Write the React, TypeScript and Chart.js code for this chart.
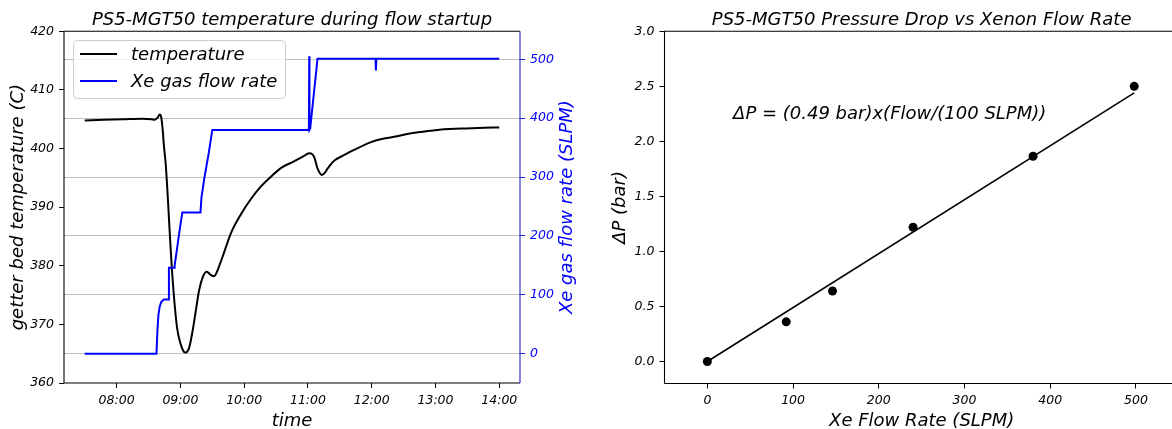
import React, { useEffect, useRef } from "react";
import { Chart, registerables } from "chart.js";

Chart.register(...registerables);

// ---------- Left panel data ----------
const timeTicks = [8, 9, 10, 11, 12, 13, 14];
const tempTicks = [360, 370, 380, 390, 400, 410, 420];
const flowTicks = [0, 100, 200, 300, 400, 500];

const tempTime = [
  7.5, 7.8, 8.1, 8.4, 8.55, 8.6, 8.645, 8.675, 8.7, 8.72, 8.743, 8.769, 8.805, 8.821,
  8.852, 8.89, 8.947, 9.005, 9.04, 9.072, 9.1, 9.135, 9.19, 9.24, 9.29, 9.345, 9.41,
  9.45, 9.48, 9.53, 9.57, 9.61, 9.68, 9.79, 9.95, 10.1, 10.26, 10.42, 10.58, 10.78,
  10.92, 11.02, 11.07, 11.1, 11.15, 11.22, 11.26, 11.31, 11.41, 11.57, 11.73, 11.99,
  12.14, 12.35, 12.62, 12.88, 13.14, 13.4, 13.66, 14.0,
];
const tempValue = [
  404.8, 404.9, 405.0, 405.1, 405.0, 404.9, 405.3, 405.8, 405.3, 403.5, 400.3, 397.5,
  391.2, 388.0, 382.0, 376.0, 369.5, 366.6, 365.6, 365.2, 365.3, 365.9, 368.8, 372.2,
  375.6, 377.9, 379.0, 378.7, 378.4, 378.2, 378.9, 380.0, 382.1, 385.5, 388.8, 391.3,
  393.5, 395.2, 396.7, 397.8, 398.6, 399.2, 399.0, 398.5, 396.6, 395.5, 395.8, 396.6,
  397.9, 398.9, 399.8, 401.1, 401.6, 402.0, 402.6, 403.0, 403.3, 403.4, 403.5, 403.6,
];

const flowTime = [
  7.5, 8.625, 8.64, 8.655, 8.675, 8.7, 8.74, 8.815, 8.82, 8.9, 8.91, 8.95, 8.99, 9.03,
  9.315, 9.33, 9.38, 9.445, 9.5, 11.015, 11.02, 11.024, 11.035, 11.15, 11.6, 12.06,
  12.066, 12.072, 12.6, 13.3, 14.0,
];
const flowValue = [
  0, 0, 40, 65, 80, 88, 92, 92, 146, 146, 150, 180, 211, 240, 240, 265, 301, 341, 380,
  380, 505, 380, 382, 501, 501, 501, 481, 501, 501, 501, 501,
];

// ---------- Right panel data ----------
const xeFlow = [0, 92, 146, 240, 380, 498];
const deltaP = [0, 0.36, 0.64, 1.22, 1.865, 2.5];
const fitFlow = [0, 498];
const fitDeltaP = [0, 2.44];
const rateTicks = [0, 100, 200, 300, 400, 500];
const dpTicks = [0, 0.5, 1.0, 1.5, 2.0, 2.5, 3.0];
const annotationFlow = 30;
const annotationDP = 2.2;

const FONT = "DejaVu Sans";
const tickFont = { family: FONT, size: 12.5, style: "italic" as const };
const SPINE_BLUE = "#2020c8";

const fixTicks = (values: number[]) => (scale: any) => {
  scale.ticks = values.map((v) => ({ value: v }));
};

const fmtTime = (v: number) => {
  const h = Math.floor(v + 1e-9);
  const m = Math.round((v - h) * 60);
  return `${String(h).padStart(2, "0")}:${String(m).padStart(2, "0")}`;
};

function drawText(
  ctx: CanvasRenderingContext2D,
  str: string,
  x: number,
  y: number,
  o: { size?: number; color?: string; align?: CanvasTextAlign; baseline?: CanvasTextBaseline; rotate?: number } = {}
) {
  ctx.save();
  ctx.font = `italic ${o.size ?? 18}px "${FONT}"`;
  ctx.fillStyle = o.color ?? "black";
  ctx.textAlign = o.align ?? "center";
  ctx.textBaseline = o.baseline ?? "alphabetic";
  ctx.translate(x, y);
  if (o.rotate) ctx.rotate(o.rotate);
  ctx.fillText(str, 0, 0);
  ctx.restore();
}

function drawSpines(chart: any, rightColor: string) {
  const { ctx, chartArea: a } = chart;
  ctx.save();
  ctx.lineWidth = 1.1;
  ctx.strokeStyle = "black";
  ctx.beginPath();
  ctx.moveTo(a.left, a.bottom);
  ctx.lineTo(a.left, a.top);
  ctx.lineTo(a.right, a.top);
  ctx.moveTo(a.left, a.bottom);
  ctx.lineTo(a.right, a.bottom);
  ctx.stroke();
  ctx.strokeStyle = rightColor;
  ctx.beginPath();
  ctx.moveTo(a.right, a.top);
  ctx.lineTo(a.right, a.bottom);
  ctx.stroke();
  ctx.restore();
}

const legendOrder = ["temperature", "Xe gas flow rate"];

function drawLegend(chart: any) {
  const ctx: CanvasRenderingContext2D = chart.ctx;
  const x = 73.5, y = 40.5, w = 212, h = 58, r = 4;
  ctx.save();
  ctx.beginPath();
  ctx.moveTo(x + r, y);
  ctx.lineTo(x + w - r, y);
  ctx.arcTo(x + w, y, x + w, y + r, r);
  ctx.lineTo(x + w, y + h - r);
  ctx.arcTo(x + w, y + h, x + w - r, y + h, r);
  ctx.lineTo(x + r, y + h);
  ctx.arcTo(x, y + h, x, y + h - r, r);
  ctx.lineTo(x, y + r);
  ctx.arcTo(x, y, x + r, y, r);
  ctx.closePath();
  ctx.fillStyle = "rgba(255,255,255,0.8)";
  ctx.fill();
  ctx.strokeStyle = "#cccccc";
  ctx.lineWidth = 1;
  ctx.stroke();
  legendOrder.forEach((label, i) => {
    const ds = chart.data.datasets.find((d: any) => d.label === label);
    if (!ds) return;
    const ly = 54 + i * 27;
    ctx.strokeStyle = ds.borderColor;
    ctx.lineWidth = 2;
    ctx.beginPath();
    ctx.moveTo(80, ly);
    ctx.lineTo(117, ly);
    ctx.stroke();
    drawText(ctx, label, 131, 60.3 + i * 27, { align: "left" });
  });
  ctx.restore();
}

function leftConfig(): any {
  const tempPts = tempTime.map((t, i) => ({ x: t, y: tempValue[i] }));
  const flowPts = flowTime.map((t, i) => ({ x: t, y: flowValue[i] }));
  return {
    type: "line",
    data: {
      datasets: [
        {
          label: "temperature",
          data: tempPts,
          yAxisID: "y",
          borderColor: "black",
          borderWidth: 2,
          pointRadius: 0,
          cubicInterpolationMode: "monotone",
          order: 1,
        },
        {
          label: "Xe gas flow rate",
          data: flowPts,
          yAxisID: "y2",
          borderColor: "blue",
          borderWidth: 2,
          pointRadius: 0,
          tension: 0,
          order: 0,
        },
      ],
    },
    options: {
      animation: false,
      responsive: false,
      events: [],
      layout: { padding: { top: 31.3, left: 0, right: 0, bottom: 0 } },
      plugins: { legend: { display: false }, tooltip: { enabled: false }, title: { display: false } },
      scales: {
        x: {
          type: "linear",
          min: 7.175,
          max: 14.325,
          afterBuildTicks: fixTicks(timeTicks),
          afterFit: (s: any) => {
            s.height = 46;
          },
          border: { display: false },
          grid: { drawOnChartArea: false, tickLength: 5, tickColor: "black", tickWidth: 1 },
          ticks: {
            font: tickFont,
            color: "black",
            padding: 5,
            maxRotation: 0,
            autoSkip: false,
            callback: (v: number) => fmtTime(v),
          },
        },
        y: {
          type: "linear",
          position: "left",
          min: 360,
          max: 420,
          afterBuildTicks: fixTicks(tempTicks),
          afterFit: (s: any) => {
            s.width = 64;
          },
          border: { display: false },
          grid: { drawOnChartArea: false, tickLength: 5, tickColor: "black", tickWidth: 1 },
          ticks: { font: tickFont, color: "black", padding: 5, callback: (v: number) => String(v) },
        },
        y2: {
          type: "linear",
          position: "right",
          min: -49.7,
          max: 547.5,
          afterBuildTicks: fixTicks(flowTicks),
          afterFit: (s: any) => {
            s.width = 80;
          },
          border: { display: false },
          grid: {
            drawOnChartArea: true,
            color: "#b0b0b0",
            lineWidth: 0.8,
            tickLength: 5,
            tickColor: SPINE_BLUE,
            tickWidth: 1,
          },
          ticks: { font: tickFont, color: "blue", padding: 5, callback: (v: number) => String(v) },
        },
      },
    },
    plugins: [
      {
        id: "leftDeco",
        afterDatasetsDraw: (chart: any) => drawSpines(chart, SPINE_BLUE),
        afterDraw: (chart: any) => {
          const ctx = chart.ctx;
          const a = chart.chartArea;
          const cx = (a.left + a.right) / 2;
          const cy = (a.top + a.bottom) / 2;
          drawText(ctx, "PS5-MGT50 temperature during flow startup", cx, 24.5);
          drawText(ctx, "time", cx, 425.5);
          drawText(ctx, "getter bed temperature (C)", 18.5, cy, { baseline: "middle", rotate: -Math.PI / 2 });
          drawText(ctx, "Xe gas flow rate (SLPM)", 567, cy, {
            baseline: "middle",
            rotate: -Math.PI / 2,
            color: "blue",
          });
          drawLegend(chart);
        },
      },
    ],
  };
}

function rightConfig(): any {
  const pts = xeFlow.map((f, i) => ({ x: f, y: deltaP[i] }));
  const fit = fitFlow.map((f, i) => ({ x: f, y: fitDeltaP[i] }));
  return {
    type: "line",
    data: {
      datasets: [
        {
          label: "measured",
          data: pts,
          showLine: false,
          pointRadius: 4.5,
          pointBackgroundColor: "black",
          pointBorderColor: "black",
          pointBorderWidth: 0,
          borderColor: "black",
          order: 0,
        },
        {
          label: "fit",
          data: fit,
          borderColor: "black",
          borderWidth: 1.6,
          pointRadius: 0,
          tension: 0,
          order: 1,
        },
      ],
    },
    options: {
      animation: false,
      responsive: false,
      events: [],
      layout: { padding: { top: 31.3, left: 0, right: 21.2, bottom: 0 } },
      plugins: { legend: { display: false }, tooltip: { enabled: false }, title: { display: false } },
      scales: {
        x: {
          type: "linear",
          min: -50,
          max: 550,
          afterBuildTicks: fixTicks(rateTicks),
          afterFit: (s: any) => {
            s.height = 45.5;
          },
          border: { display: false },
          grid: { drawOnChartArea: false, tickLength: 5, tickColor: "black", tickWidth: 1 },
          ticks: {
            font: tickFont,
            color: "black",
            padding: 5,
            maxRotation: 0,
            autoSkip: false,
            callback: (v: number) => String(v),
          },
        },
        y: {
          type: "linear",
          position: "left",
          min: -0.2,
          max: 3.0,
          afterBuildTicks: fixTicks(dpTicks),
          afterFit: (s: any) => {
            s.width = 64.5;
          },
          border: { display: false },
          grid: { drawOnChartArea: false, tickLength: 5, tickColor: "black", tickWidth: 1 },
          ticks: { font: tickFont, color: "black", padding: 5, callback: (v: number) => v.toFixed(1) },
        },
      },
    },
    plugins: [
      {
        id: "rightDeco",
        afterDatasetsDraw: (chart: any) => drawSpines(chart, "black"),
        afterDraw: (chart: any) => {
          const ctx = chart.ctx;
          const a = chart.chartArea;
          const cx = (a.left + a.right) / 2;
          const cy = (a.top + a.bottom) / 2;
          drawText(ctx, "PS5-MGT50 Pressure Drop vs Xenon Flow Rate", cx, 24.5);
          drawText(ctx, "Xe Flow Rate (SLPM)", cx, 425.5);
          drawText(ctx, "ΔP (bar)", 20, cy, { baseline: "middle", rotate: -Math.PI / 2 });
          const ax = chart.scales.x.getPixelForValue(annotationFlow);
          const ay = chart.scales.y.getPixelForValue(annotationDP);
          drawText(ctx, "ΔP = (0.49 bar)x(Flow/(100 SLPM))", ax, ay, { align: "left" });
        },
      },
    ],
  };
}

export default function App() {
  const leftRef = useRef<HTMLCanvasElement>(null);
  const rightRef = useRef<HTMLCanvasElement>(null);
  useEffect(() => {
    const c1 = new Chart(leftRef.current as HTMLCanvasElement, leftConfig());
    const c2 = new Chart(rightRef.current as HTMLCanvasElement, rightConfig());
    return () => {
      c1.destroy();
      c2.destroy();
    };
  }, []);
  return (
    <div
      style={{
        position: "absolute",
        left: 0,
        top: 0,
        width: 1172,
        height: 429,
        overflow: "hidden",
        background: "white",
      }}
    >
      <canvas ref={leftRef} width={600} height={429} style={{ position: "absolute", left: 0, top: 0 }} />
      <canvas ref={rightRef} width={600} height={429} style={{ position: "absolute", left: 600, top: 0 }} />
    </div>
  );
}
